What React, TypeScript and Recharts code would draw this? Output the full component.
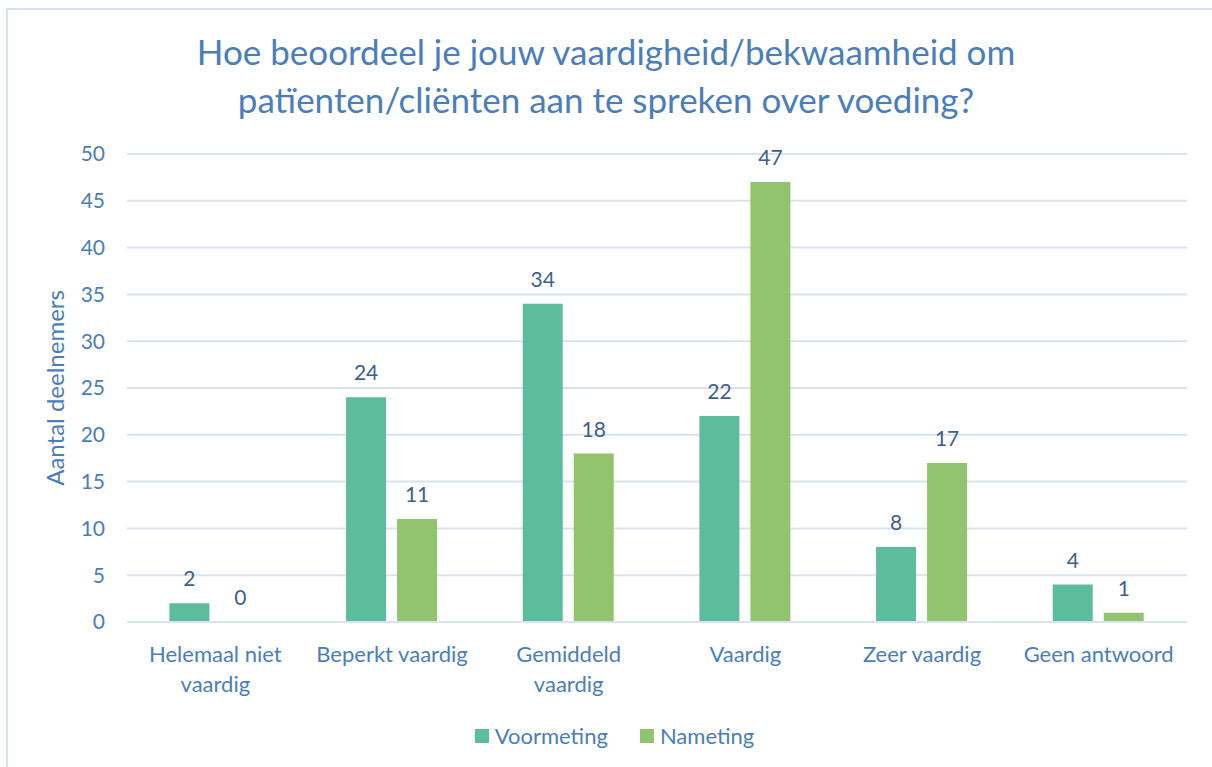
import { Bar, BarChart, CartesianGrid, LabelList, Legend, XAxis, YAxis } from "recharts";

const categories = [
  "Helemaal niet vaardig",
  "Beperkt vaardig",
  "Gemiddeld vaardig",
  "Vaardig",
  "Zeer vaardig",
  "Geen antwoord",
];
const seriesNames = ["Voormeting", "Nameting"];
const voormeting = [2, 24, 34, 22, 8, 4];
const nameting = [0, 11, 18, 47, 17, 1];
const yTicks = [0, 5, 10, 15, 20, 25, 30, 35, 40, 45, 50];

const data = categories.map((name, i) => ({
  name,
  Voormeting: voormeting[i],
  Nameting: nameting[i],
}));

const FONT = "Lato, 'Open Sans', sans-serif";
const BLUE = "#4a7ebb";
const LABEL = "#3d5f8e";
const COLORS: Record<string, string> = { Voormeting: "#5bbd9c", Nameting: "#92c36e" };

// split long category names over two lines, like the original
function wrap(text: string, max = 15) {
  const words = text.split(" ");
  const lines: string[] = [];
  let cur = "";
  for (const w of words) {
    const next = cur ? cur + " " + w : w;
    if (next.length > max && cur) {
      lines.push(cur);
      cur = w;
    } else cur = next;
  }
  if (cur) lines.push(cur);
  return lines;
}

function CategoryTick({ x, y, payload }: any) {
  const lines = wrap(payload.value);
  return (
    <text x={x} y={y} textAnchor="middle" fill={BLUE} fontSize={22} fontFamily={FONT}>
      {lines.map((l, i) => (
        <tspan key={i} x={x} dy={i === 0 ? 32 : 30}>
          {l}
        </tspan>
      ))}
    </text>
  );
}

// value above the bar
function ValueLabel({ x, y, width, value }: any) {
  return (
    <text x={x + width / 2} y={y - 17} textAnchor="middle" fill={LABEL} fontSize={21} fontFamily={FONT}>
      {value}
    </text>
  );
}

function LegendBox() {
  return (
    <div
      style={{
        display: "flex",
        justifyContent: "center",
        gap: 32,
        paddingLeft: 42,
        fontFamily: FONT,
        fontSize: 22,
        color: BLUE,
      }}
    >
      {seriesNames.map((s) => (
        <div key={s} style={{ display: "flex", alignItems: "center", gap: 6 }}>
          <span style={{ width: 14, height: 14, background: COLORS[s], display: "inline-block" }} />
          {s}
        </div>
      ))}
    </div>
  );
}

export default function App() {
  return (
    <div style={{ position: "absolute", left: 0, top: 0, width: 1212, height: 767, overflow: "hidden", background: "white" }}>
      <div
        style={{
          position: "absolute",
          left: 6,
          top: 8,
          width: 1240,
          height: 800,
          border: "2px solid #d6e2ef",
        }}
      />
      <div
        style={{
          position: "absolute",
          top: 27,
          left: 0,
          width: 1212,
          textAlign: "center",
          fontFamily: FONT,
          fontSize: 35,
          lineHeight: "48px",
          color: BLUE,
        }}
      >
        Hoe beoordeel je jouw vaardigheid/bekwaamheid om
        <br />
        patïenten/cliënten aan te spreken over voeding?
      </div>
      <div style={{ position: "absolute", left: 0, top: 0 }}>
        <BarChart
          width={1212}
          height={767}
          data={data}
          margin={{ top: 154, right: 25, bottom: 38, left: 0 }}
          barCategoryGap="24%"
          barGap={11}
        >
          <CartesianGrid vertical={false} stroke="#d9e2ef" strokeWidth={2} />
          <XAxis
            dataKey="name"
            tick={<CategoryTick />}
            tickLine={false}
            axisLine={{ stroke: "#d9e2ef", strokeWidth: 2 }}
            interval={0}
            height={80}
          />
          <YAxis
            width={127}
            domain={[0, 50]}
            ticks={yTicks}
            tickLine={false}
            axisLine={false}
            tickMargin={16}
            tick={{ fill: BLUE, fontSize: 21, fontFamily: FONT }}
            label={{
              value: "Aantal deelnemers",
              angle: -90,
              position: "insideLeft",
              dx: 50,
              style: { fill: BLUE, fontSize: 24, fontFamily: FONT, textAnchor: "middle" },
            }}
          />
          <Legend content={<LegendBox />} verticalAlign="bottom" wrapperStyle={{ bottom: 18 }} />
          {seriesNames.map((s) => (
            <Bar
              key={s}
              dataKey={s}
              fill={COLORS[s]}
              minPointSize={(v: number) => (v === 0 ? 0.01 : 0)}
              isAnimationActive={false}
            >
              <LabelList dataKey={s} content={<ValueLabel />} />
            </Bar>
          ))}
        </BarChart>
      </div>
    </div>
  );
}
